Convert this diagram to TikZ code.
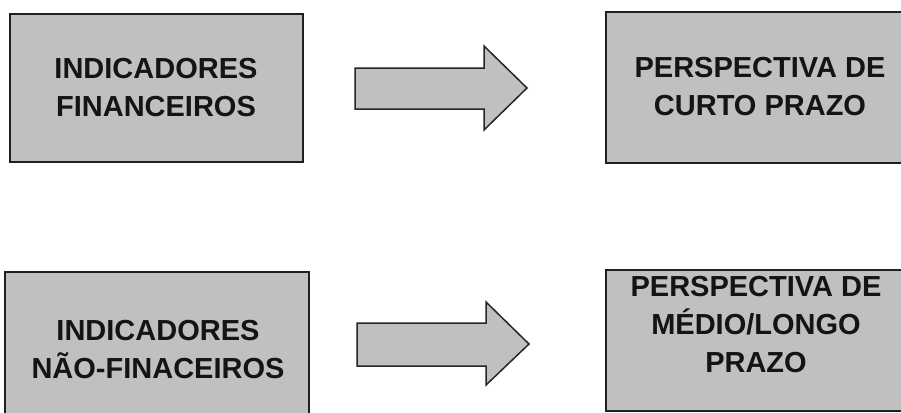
\documentclass[tikz,border=0pt]{standalone}
\usepackage{fontspec}
\setmainfont{Liberation Sans}
\begin{document}
\begin{tikzpicture}[x=1pt,y=-1pt,
  box/.style={draw=black!88,line width=1.5pt,fill=boxgray},
  lbl/.style={inner sep=0pt,align=center,font=\fontsize{29}{38}\selectfont\bfseries,text=black!92},
  blockarrow/.style={draw=black!85,line width=1.5pt,fill=boxgray,line join=miter}]
\definecolor{boxgray}{HTML}{C0C0C0}
\useasboundingbox (0,0) rectangle (901,412);
\begin{scope}
\clip (0,0) rectangle (901,412);
% boxes
\draw[box] (10,14) rectangle (303,162);
\draw[box] (606,12) rectangle (916,163);
\draw[box] (5,272) rectangle (309,428);
\draw[box] (606,270) rectangle (916,411);
% arrows
\draw[blockarrow] (355,68) -- (484,68) -- (484,46) -- (527,88) -- (484,130) -- (484,109) -- (355,109) -- cycle;
\draw[blockarrow] (357,323) -- (486,323) -- (486,302) -- (529,344) -- (486,385) -- (486,366) -- (357,366) -- cycle;
\end{scope}
% labels
\node[lbl] (tl) at (156,88) {INDICADORES\\FINANCEIROS};
\node[lbl] (tr) at (760,86.5) {PERSPECTIVA DE\\CURTO PRAZO};
\node[lbl] (bl) at (158,350) {INDICADORES\\NÃO-FINACEIROS};
\node[lbl] (br) at (756,325) {PERSPECTIVA DE\\MÉDIO/LONGO\\PRAZO};
\end{tikzpicture}
\end{document}
